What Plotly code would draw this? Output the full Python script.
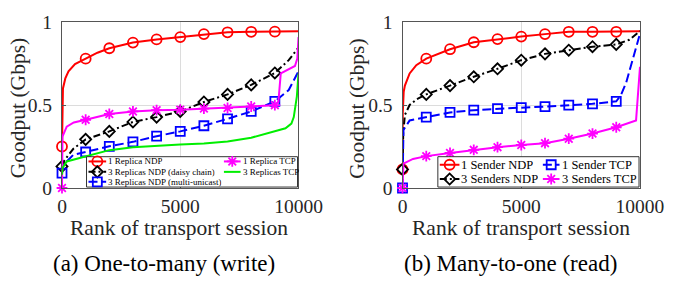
import plotly.graph_objects as go

# ---------------- data ----------------
MARK_RANKS = [0, 1000, 2000, 3000, 4000, 5000, 6000, 7000, 8000, 9000]
X_TICKS = [0, 5000, 10000]
X_TICK_TEXT = ["0", "5000", "10000"]
Y_TICKS = [0, 0.5, 1]
Y_TICK_TEXT = ["0", "0.5", "1"]

# (a) One-to-many (write)
A_NDP1_RANK = [0, 10, 40, 140, 275, 550, 1000, 1500, 2000, 3000, 4000, 5000, 6000, 7000, 8000, 9000, 9500, 10000]
A_NDP1_GBPS = [0.25, 0.50, 0.60, 0.66, 0.703, 0.747, 0.779, 0.815, 0.842, 0.876, 0.895, 0.909, 0.927, 0.938, 0.941, 0.942, 0.943, 0.945]

A_NDP3D_RANK = [0, 30, 200, 480, 1000, 2000, 3000, 4000, 5000, 6000, 7000, 8000, 9000, 9586, 10000]
A_NDP3D_GBPS = [0.13, 0.15, 0.185, 0.236, 0.293, 0.341, 0.398, 0.427, 0.461, 0.518, 0.564, 0.621, 0.693, 0.77, 0.846]

A_NDP3M_RANK = [0, 30, 200, 480, 1000, 2000, 3000, 4000, 5000, 6000, 7000, 8000, 9000, 9586, 10000]
A_NDP3M_GBPS = [0.09, 0.13, 0.16, 0.20, 0.217, 0.251, 0.278, 0.312, 0.341, 0.375, 0.417, 0.461, 0.522, 0.59, 0.703]

A_TCP1_RANK = [0, 10, 20, 200, 500, 1000, 2000, 3000, 4000, 5000, 6000, 7000, 8000, 9000, 9150, 9250, 9600, 9850, 9950, 10000]
A_TCP1_GBPS = [0.0, 0.25, 0.31, 0.37, 0.395, 0.411, 0.446, 0.461, 0.469, 0.472, 0.478, 0.482, 0.491, 0.499, 0.52, 0.69, 0.715, 0.735, 0.78, 0.91]

A_TCP3_RANK = [0, 20, 200, 1000, 2000, 3000, 4000, 5000, 6000, 7000, 8000, 9000, 9450, 9700, 9800, 9930, 10000]
A_TCP3_GBPS = [0.08, 0.12, 0.16, 0.19, 0.228, 0.245, 0.255, 0.262, 0.268, 0.28, 0.303, 0.341, 0.36, 0.388, 0.427, 0.55, 0.69]

# (b) Many-to-one (read)
B_NDP1_RANK = [0, 10, 50, 100, 300, 580, 1000, 2000, 3000, 4000, 5000, 6000, 7000, 8000, 9000, 10000]
B_NDP1_GBPS = [0.112, 0.45, 0.58, 0.617, 0.69, 0.74, 0.779, 0.836, 0.878, 0.897, 0.912, 0.927, 0.941, 0.941, 0.941, 0.945]

B_NDP3_RANK = [0, 30, 100, 300, 600, 1000, 2000, 3000, 4000, 5000, 6000, 7000, 8000, 9000, 9550, 10000]
B_NDP3_GBPS = [0.112, 0.33, 0.44, 0.50, 0.535, 0.564, 0.617, 0.670, 0.718, 0.770, 0.808, 0.830, 0.851, 0.865, 0.893, 0.945]

B_TCP1_RANK = [0, 10, 40, 300, 1000, 2000, 3000, 4000, 5000, 6000, 7000, 8000, 9000, 9200, 9420, 9834, 10000]
B_TCP1_GBPS = [0.0, 0.2, 0.35, 0.407, 0.427, 0.455, 0.469, 0.478, 0.484, 0.49, 0.499, 0.507, 0.522, 0.56, 0.636, 0.846, 0.93]

B_TCP3_RANK = [0, 10, 40, 442, 1000, 2000, 3000, 4000, 5000, 6000, 7000, 8000, 9000, 9500, 9834, 10000]
B_TCP3_GBPS = [0.0, 0.12, 0.147, 0.175, 0.192, 0.211, 0.230, 0.246, 0.259, 0.270, 0.297, 0.328, 0.366, 0.39, 0.407, 0.73]

LEGEND_A = ["1 Replica NDP", "3 Replicas NDP (daisy chain)", "3 Replicas NDP (multi-unicast)",
            "1 Replica TCP", "3 Replicas TCP"]
LEGEND_B = ["1 Sender NDP", "3 Senders NDP", "1 Sender TCP", "3 Senders TCP"]

Y_TITLE = "Goodput (Gbps)"
X_TITLE = "Rank of transport session"
CAPTION_A = "(a) One-to-many (write)"
CAPTION_B = "(b) Many-to-one (read)"

# ---------------- styles ----------------
FONT = "Liberation Serif"
RED, BLACK, BLUE, MAG, GREEN = "#ff0000", "#000000", "#0000ff", "#ff00ff", "#00ee00"
DASHDOT = "7px,3px,2px,3px"
DASH = "9px,4px"
STY = {
    "ndp1": dict(color=RED, dash="solid", symbol="circle-open", size=10),
    "ndp3": dict(color=BLACK, dash=DASHDOT, symbol="diamond-open", size=8.5),
    "ndp3m": dict(color=BLUE, dash=DASH, symbol="square-open", size=9),
    "tcp1": dict(color=MAG, dash="solid", symbol="asterisk-open", size=9),
    "tcp3": dict(color=GREEN, dash="solid", symbol=None, size=0),
}

W, H = 676, 282
PL, PR, PT, PB = 62, 651, 13, 188  # plot area in pixels

fig = go.Figure()


def add_series(rank, vals, sty, xa, ya):
    fig.add_trace(go.Scatter(x=rank, y=vals, mode="lines", xaxis=xa, yaxis=ya,
                             line=dict(color=sty["color"], width=2, dash=sty["dash"]),
                             showlegend=False, hoverinfo="skip"))
    if sty["symbol"]:
        mr = [r for r in rank if r in MARK_RANKS]
        mv = [v for r, v in zip(rank, vals) if r in MARK_RANKS]
        fig.add_trace(go.Scatter(x=mr, y=mv, mode="markers", xaxis=xa, yaxis=ya,
                                 marker=dict(symbol=sty["symbol"], size=sty["size"], color=sty["color"],
                                             line=dict(color=sty["color"], width=1.8)),
                                 cliponaxis=False, showlegend=False, hoverinfo="skip"))


add_series(A_NDP1_RANK, A_NDP1_GBPS, STY["ndp1"], "x", "y")
add_series(A_NDP3D_RANK, A_NDP3D_GBPS, STY["ndp3"], "x", "y")
add_series(A_NDP3M_RANK, A_NDP3M_GBPS, STY["ndp3m"], "x", "y")
add_series(A_TCP1_RANK, A_TCP1_GBPS, STY["tcp1"], "x", "y")
add_series(A_TCP3_RANK, A_TCP3_GBPS, STY["tcp3"], "x", "y")

add_series(B_NDP1_RANK, B_NDP1_GBPS, STY["ndp1"], "x2", "y2")
add_series(B_NDP3_RANK, B_NDP3_GBPS, STY["ndp3"], "x2", "y2")
add_series(B_TCP1_RANK, B_TCP1_GBPS, STY["ndp3m"], "x2", "y2")
add_series(B_TCP3_RANK, B_TCP3_GBPS, STY["tcp1"], "x2", "y2")

# ---------------- manual legends on an overlay pixel axis ----------------
shapes = []
annotations = []


def legend_item(x0, x1, y, sty, label, fsize, boxh):
    fig.add_trace(go.Scatter(x=[x0, x1], y=[y, y], mode="lines", xaxis="x3", yaxis="y3",
                             line=dict(color=sty["color"], width=2, dash=sty["dash"]),
                             showlegend=False, hoverinfo="skip"))
    if sty["symbol"]:
        fig.add_trace(go.Scatter(x=[(x0 + x1) / 2], y=[y], mode="markers", xaxis="x3", yaxis="y3",
                                 marker=dict(symbol=sty["symbol"], size=sty["size"], color=sty["color"],
                                             line=dict(color=sty["color"], width=1.8)),
                                 cliponaxis=False, showlegend=False, hoverinfo="skip"))
    annotations.append(dict(x=x1 + 1, y=y, xref="x3", yref="y3", text=label, showarrow=False,
                            xanchor="left", yanchor="middle", borderpad=0, height=boxh, valign="middle",
                            font=dict(family=FONT, size=fsize, color="#000")))


for box in [(87, 155, 302, 187), (445, 155, 650, 187)]:
    shapes.append(dict(type="rect", xref="x3", yref="y3", x0=box[0], y0=box[1], x1=box[2], y1=box[3],
                       line=dict(color="#333333", width=1), fillcolor="white", layer="below"))

legend_item(89, 107, 160, STY["ndp1"], LEGEND_A[0], 9, 10)
legend_item(89, 107, 171, STY["ndp3"], LEGEND_A[1], 9, 10)
legend_item(89, 107, 181.5, STY["ndp3m"], LEGEND_A[2], 9, 10)
legend_item(227, 244, 160, STY["tcp1"], LEGEND_A[3], 9, 10)
legend_item(227, 244, 171, STY["tcp3"], LEGEND_A[4], 9, 10)

legend_item(447, 467, 163.5, STY["ndp1"], LEGEND_B[0], 12.5, 12)
legend_item(447, 467, 178.5, STY["ndp3"], LEGEND_B[1], 12.5, 12)
legend_item(552, 569, 163.5, STY["ndp3m"], LEGEND_B[2], 12.5, 12)
legend_item(552, 569, 178.5, STY["tcp1"], LEGEND_B[3], 12.5, 12)

# ---------------- titles / captions ----------------
def px_x(p):
    return (p - PL) / (PR - PL)


def px_y(p):
    return (PB - p) / (PB - PT)


TFONT = dict(family=FONT, size=21.5, color="#262626")
for cx in [17, 363]:
    annotations.append(dict(x=px_x(cx), y=px_y(104), xref="paper", yref="paper", text=Y_TITLE,
                            textangle=-90, showarrow=False, xanchor="center", yanchor="middle", font=TFONT))
for cx in [181, 530]:
    annotations.append(dict(x=px_x(cx), y=px_y(230), xref="paper", yref="paper", text=X_TITLE,
                            showarrow=False, xanchor="center", yanchor="middle", font=TFONT))
for cx, cap in [(165.5, CAPTION_A), (519.5, CAPTION_B)]:
    annotations.append(dict(x=px_x(cx), y=px_y(268), xref="paper", yref="paper", text=cap,
                            showarrow=False, xanchor="center", yanchor="middle",
                            font=dict(family=FONT, size=23, color="#000")))

AX = dict(showline=True, mirror=True, linecolor="#555555", linewidth=1,
          ticks="inside", ticklen=4, tickcolor="#555555",
          showgrid=True, gridcolor="#dcdcdc", gridwidth=1, zeroline=False,
          tickfont=dict(family=FONT, size=19.5, color="#262626"), fixedrange=True)

xd1 = [0, px_x(303)]
xd2 = [px_x(409), 1]

fig.update_layout(
    width=W, height=H,
    margin=dict(l=PL, r=W - PR, t=PT, b=H - PB),
    paper_bgcolor="#ffffff", plot_bgcolor="rgba(0,0,0,0)",
    showlegend=False,
    xaxis=dict(AX, domain=xd1, range=[0, 10000], tickvals=X_TICKS, ticktext=X_TICK_TEXT, anchor="y",
               ticklabelstandoff=1),
    yaxis=dict(AX, domain=[0, 1], range=[0, 1], tickvals=Y_TICKS, ticktext=Y_TICK_TEXT, anchor="x",
               ticklabelstandoff=5),
    xaxis2=dict(AX, domain=xd2, range=[0, 10000], tickvals=X_TICKS, ticktext=X_TICK_TEXT, anchor="y2",
                ticklabelstandoff=1),
    yaxis2=dict(AX, domain=[0, 1], range=[0, 1], tickvals=Y_TICKS, ticktext=Y_TICK_TEXT, anchor="x2",
                ticklabelstandoff=5),
    xaxis3=dict(domain=[0, 1], range=[PL, PR], visible=False, anchor="y3", fixedrange=True),
    yaxis3=dict(domain=[0, 1], range=[PB, PT], visible=False, anchor="x3", fixedrange=True),
    shapes=shapes,
    annotations=annotations,
)

fig.write_html("out.html", config={"displayModeBar": False},
               post_script="document.body.style.margin='0px';document.body.style.overflow='hidden';")
